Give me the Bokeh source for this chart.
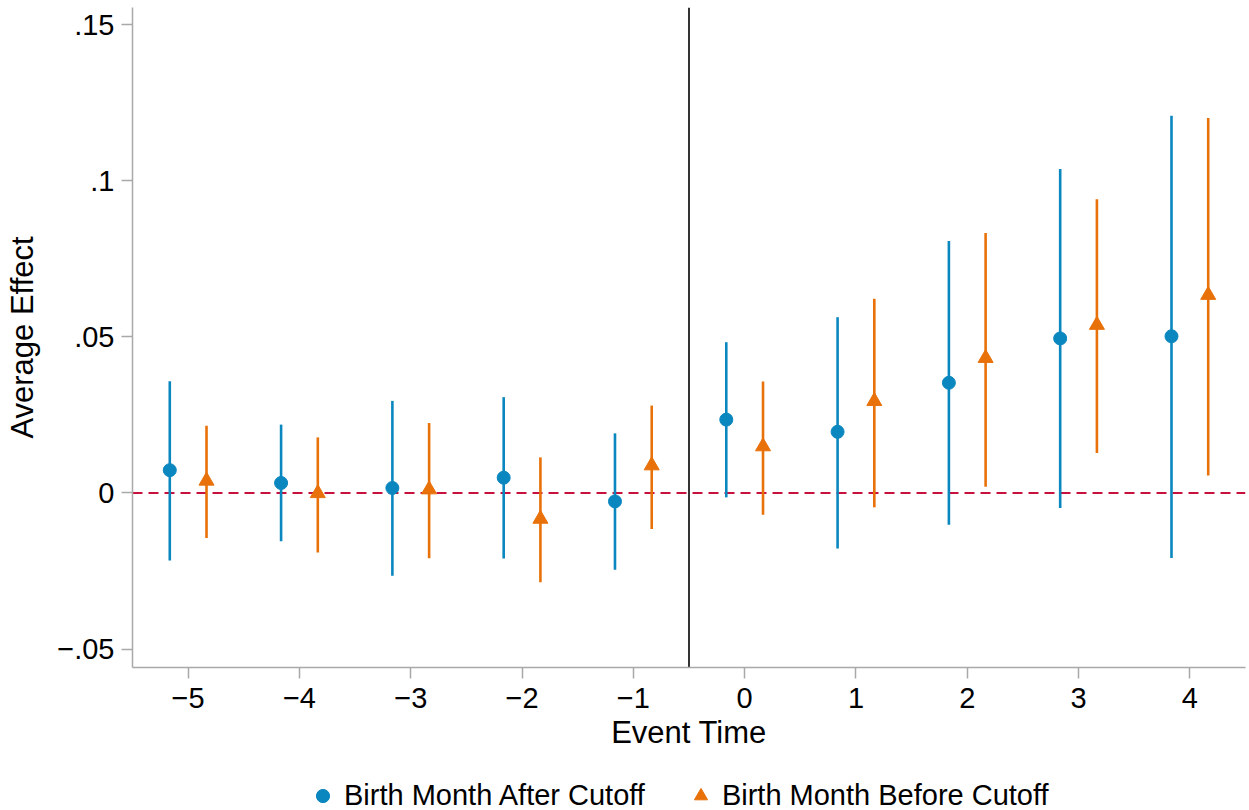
from bokeh.plotting import figure
from bokeh.layouts import column
from bokeh.models import (ColumnDataSource, Span, Legend, LegendItem,
                          FixedTicker)
from bokeh.embed import file_html
from bokeh.resources import INLINE

# Event-study estimates with 95% confidence bounds
event_time = [-5, -4, -3, -2, -1, 0, 1, 2, 3, 4]

after_est = [0.0073, 0.0032, 0.0016, 0.0049, -0.0027, 0.0235, 0.0196, 0.0353, 0.0495, 0.0502]
after_lo = [-0.0216, -0.0155, -0.0265, -0.0210, -0.0246, -0.0014, -0.0178, -0.0102, -0.0048, -0.0208]
after_hi = [0.0358, 0.0219, 0.0295, 0.0307, 0.0191, 0.0483, 0.0563, 0.0807, 0.1038, 0.1208]

before_est = [0.0039, -0.0001, 0.0011, -0.0083, 0.0088, 0.0149, 0.0294, 0.0432, 0.0538, 0.0634]
before_lo = [-0.0144, -0.0191, -0.0209, -0.0286, -0.0115, -0.0070, -0.0046, 0.0020, 0.0128, 0.0056]
before_hi = [0.0215, 0.0178, 0.0224, 0.0114, 0.0280, 0.0357, 0.0622, 0.0833, 0.0941, 0.1201]

series_labels = ["Birth Month After Cutoff", "Birth Month Before Cutoff"]

x_ticks = [-5, -4, -3, -2, -1, 0, 1, 2, 3, 4]
x_tick_labels = ["\u22125", "\u22124", "\u22123", "\u22122", "\u22121", "0", "1", "2", "3", "4"]
y_ticks = [-0.05, 0, 0.05, 0.1, 0.15]
y_tick_labels = ["\u2212.05", "0", ".05", ".1", ".15"]

BLUE = "#0b87bf"
ORANGE = "#e8710a"
AXIS_GRAY = "#a9a9a9"
FONT = "Liberation Sans"
shift = 0.165

after_src = ColumnDataSource(dict(
    x=[t - shift for t in event_time], est=after_est, lo=after_lo, hi=after_hi))
before_src = ColumnDataSource(dict(
    x=[t + shift for t in event_time], est=before_est, lo=before_lo, hi=before_hi))

p = figure(frame_width=1113, frame_height=660, x_range=(-5.5, 4.5), y_range=(-0.0559, 0.1555),
           output_backend="svg", toolbar_location=None,
           min_border_left=132, min_border_right=4, min_border_top=7, min_border_bottom=83)
p.outline_line_color = None
p.xgrid.visible = False
p.ygrid.visible = False
p.background_fill_color = "white"
p.border_fill_color = "white"

# reference lines
p.add_layout(Span(location=0, dimension="width", line_color="#c8103c",
                  line_width=2, line_dash="10 6", level="underlay"))
p.add_layout(Span(location=-0.5, dimension="height", line_color="black",
                  line_width=1.6, level="underlay"))

# confidence intervals and point estimates
p.segment(x0="x", y0="lo", x1="x", y1="hi", source=after_src, line_color=BLUE, line_width=2.6)
p.segment(x0="x", y0="lo", x1="x", y1="hi", source=before_src, line_color=ORANGE, line_width=2.6)
p.scatter(x="x", y="est", source=after_src, marker="circle", size=13,
          fill_color=BLUE, line_color=BLUE)
p.scatter(x="x", y="est", source=before_src, marker="triangle", size=15,
          fill_color=ORANGE, line_color=ORANGE)

# axes
for ax in (p.xaxis[0], p.yaxis[0]):
    ax.axis_line_color = AXIS_GRAY
    ax.axis_line_width = 1.5
    ax.major_tick_line_color = AXIS_GRAY
    ax.major_tick_line_width = 1.5
    ax.major_tick_out = 11
    ax.major_tick_in = 0
    ax.minor_tick_line_color = None
    ax.major_label_text_font = FONT
    ax.major_label_text_font_size = "29px"
    ax.major_label_text_color = "black"
    ax.axis_label_text_font = FONT
    ax.axis_label_text_font_size = "31px"
    ax.axis_label_text_font_style = "normal"
    ax.axis_label_text_color = "black"

p.xaxis.ticker = FixedTicker(ticks=x_ticks)
p.xaxis.major_label_overrides = dict(zip(x_ticks, x_tick_labels))
p.xaxis.axis_label = "Event Time"
p.xaxis.major_label_standoff = 9
p.xaxis.axis_label_standoff = 4

p.yaxis.ticker = FixedTicker(ticks=y_ticks)
p.yaxis.major_label_overrides = dict(zip(y_ticks, y_tick_labels))
p.yaxis.major_label_orientation = "horizontal"
p.yaxis.axis_label = "Average Effect"
p.yaxis.major_label_standoff = 7
p.yaxis.axis_label_standoff = 14

# legend strip under the chart; key glyphs sit outside its visible range
leg = figure(frame_width=1249, frame_height=60, x_range=(0, 1), y_range=(0, 1),
             x_axis_type=None, y_axis_type=None,
             output_backend="svg", toolbar_location=None,
             min_border_left=0, min_border_right=0, min_border_top=0, min_border_bottom=0)
leg.outline_line_color = None
leg.xgrid.visible = False
leg.ygrid.visible = False
key_after = leg.scatter(x=[-9], y=[-9], marker="circle", fill_color=BLUE, line_color=BLUE)
key_before = leg.scatter(x=[-9], y=[-9], marker="triangle", fill_color=ORANGE, line_color=ORANGE)

legend = Legend(items=[LegendItem(label=series_labels[0], renderers=[key_after]),
                       LegendItem(label=series_labels[1], renderers=[key_before])],
                orientation="horizontal", location=(305, 0),
                border_line_color=None, background_fill_alpha=0,
                label_text_font=FONT, label_text_font_size="29px", label_text_color="black",
                label_standoff=4, spacing=38, glyph_width=35, glyph_height=33,
                margin=0, padding=0)
leg.add_layout(legend, "center")

open("out.html", "w").write(file_html(column(p, leg, spacing=0), INLINE))
